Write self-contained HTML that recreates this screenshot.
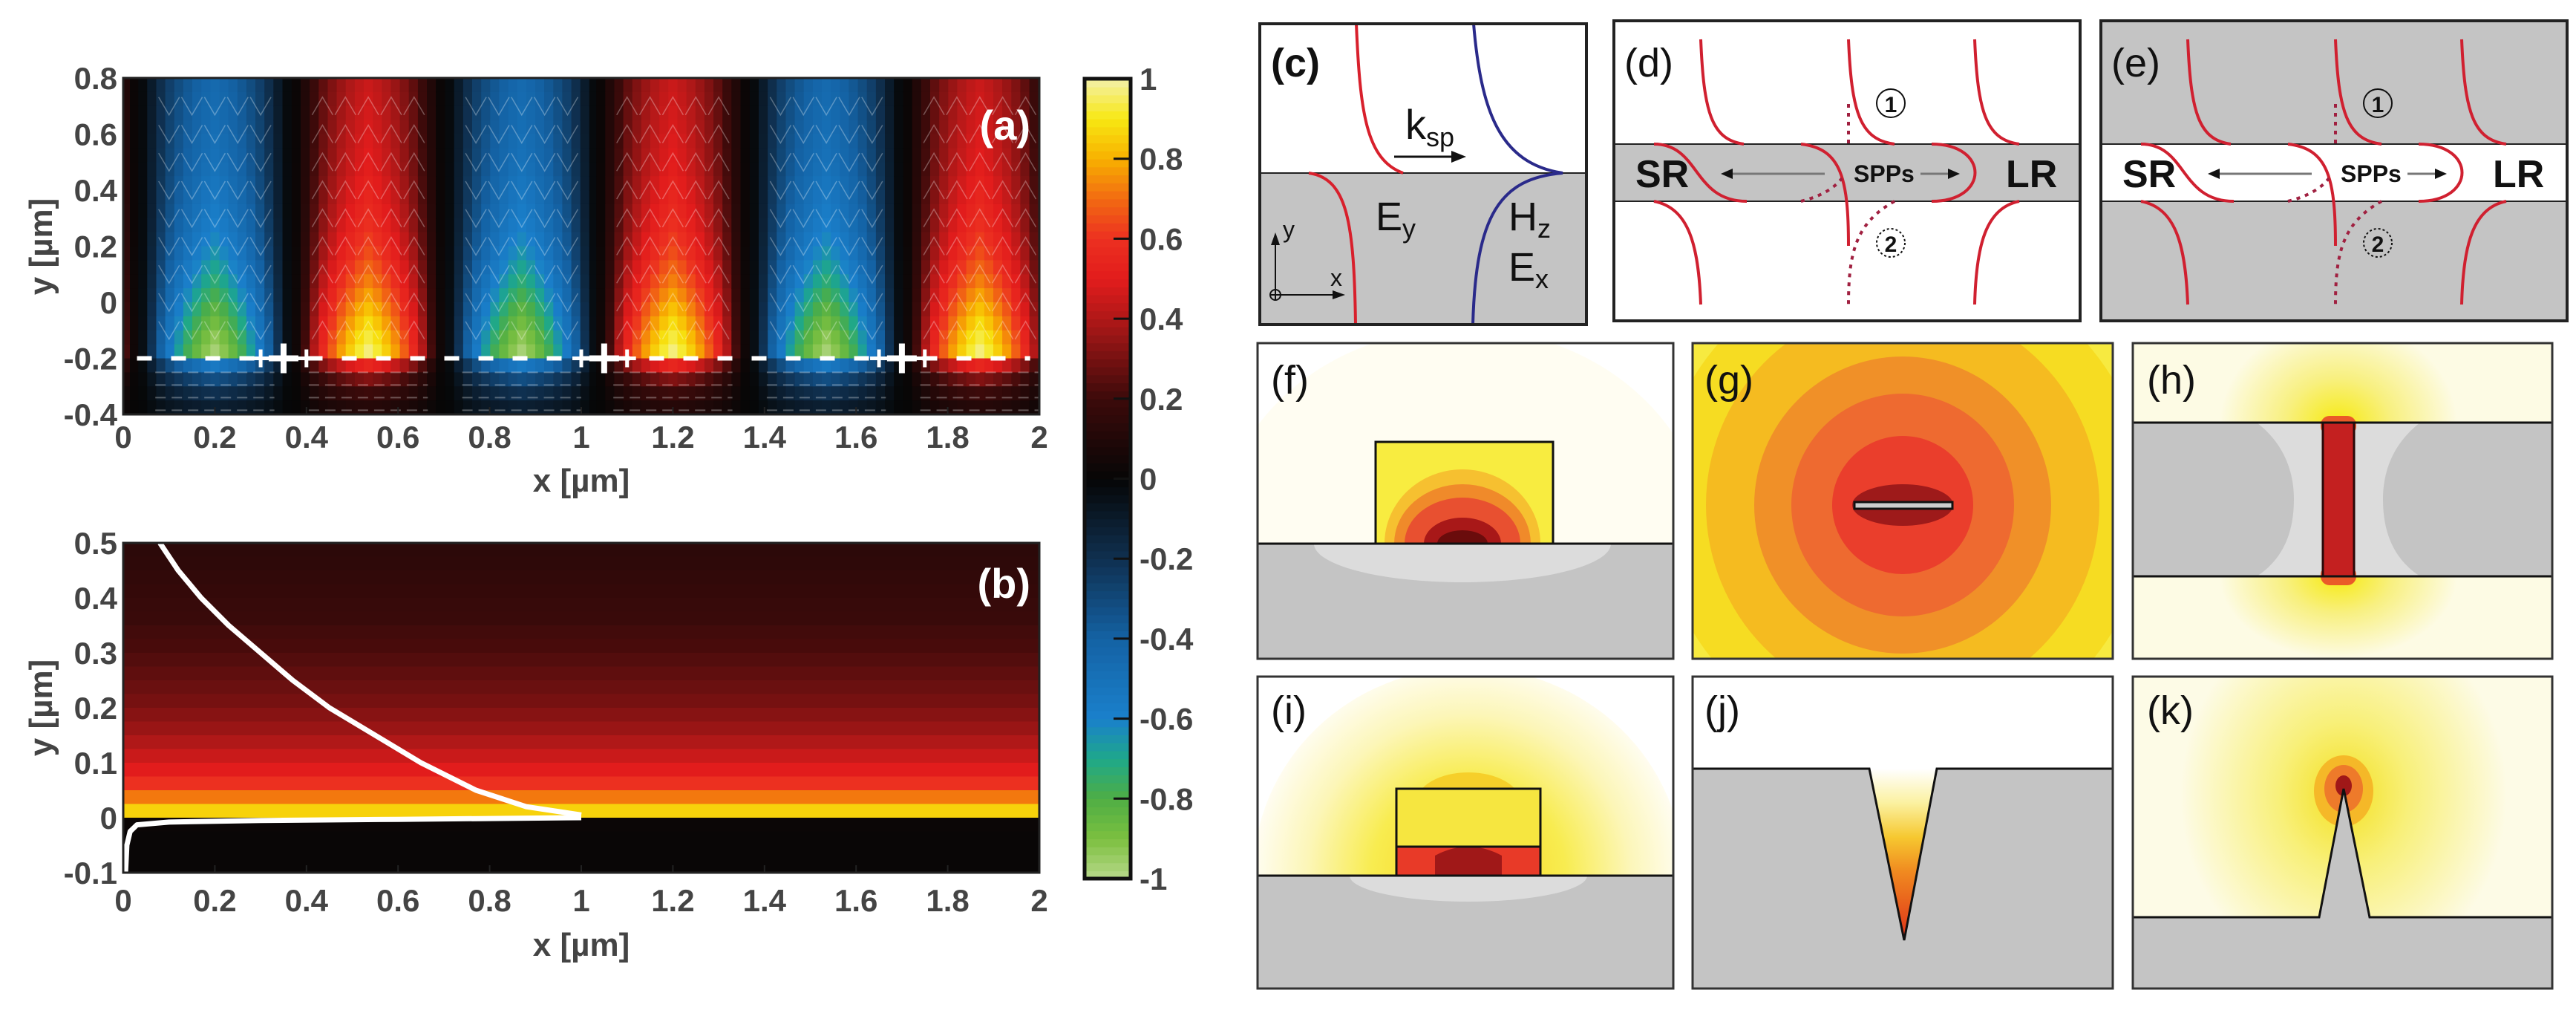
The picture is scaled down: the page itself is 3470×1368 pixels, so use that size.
<!DOCTYPE html>
<html><head><meta charset="utf-8">
<style>
html,body{margin:0;padding:0;background:#fff;width:3470px;height:1368px;overflow:hidden;}
svg{display:block;}
.tk{font-family:"Liberation Sans Narrow","Liberation Sans",sans-serif;font-weight:bold;font-size:42px;fill:#444;}
.lb{font-family:"Liberation Sans Narrow","Liberation Sans",sans-serif;font-weight:bold;font-size:44px;fill:#444;}
.pl{font-family:"Liberation Sans","DejaVu Sans",sans-serif;font-weight:bold;font-size:50px;fill:#111;}
</style></head>
<body>
<svg id="fig" width="3470" height="1368" viewBox="0 0 3470 1368" xmlns="http://www.w3.org/2000/svg">
<defs>
  <clipPath id="clipA"><rect x="166" y="105" width="1234" height="453"/></clipPath>
  <clipPath id="clipB"><rect x="166" y="731" width="1234" height="444"/></clipPath>
  <clipPath id="cpF"><rect x="1694" y="462" width="560" height="425"/></clipPath>
  <clipPath id="cpG"><rect x="2280" y="462" width="566" height="425"/></clipPath>
  <clipPath id="cpH"><rect x="2873" y="462" width="565" height="425"/></clipPath>
  <clipPath id="cpI"><rect x="1694" y="911" width="560" height="420"/></clipPath>
  <clipPath id="cpJ"><rect x="2280" y="911" width="566" height="420"/></clipPath>
  <clipPath id="cpK"><rect x="2873" y="911" width="565" height="420"/></clipPath>
  <radialGradient id="glowF" cx="0.5" cy="1" r="0.5">
    <stop offset="0" stop-color="#f7d21a"/><stop offset="0.45" stop-color="#f8ec50"/><stop offset="0.75" stop-color="#fcf6b8"/><stop offset="1" stop-color="#fffdf2"/>
  </radialGradient>
  <radialGradient id="glowI" gradientUnits="userSpaceOnUse" cx="1978" cy="1179" r="290">
    <stop offset="0" stop-color="#f7d21a"/><stop offset="0.45" stop-color="#f8ec50"/><stop offset="0.75" stop-color="#fcf6b8"/><stop offset="1" stop-color="#fffdf2"/>
  </radialGradient>
  <radialGradient id="glowH" cx="0.5" cy="0.5" r="0.5">
    <stop offset="0" stop-color="#f6ea10"/><stop offset="0.45" stop-color="#f8f080"/><stop offset="1" stop-color="#fdfbe4"/>
  </radialGradient>
  <radialGradient id="glowK" cx="0.5" cy="0.5" r="0.5">
    <stop offset="0" stop-color="#f4e020"/><stop offset="0.4" stop-color="#f8f07a"/><stop offset="1" stop-color="#fdfbe6"/>
  </radialGradient>
  <linearGradient id="notchJ" x1="0" y1="0" x2="0" y2="1">
    <stop offset="0" stop-color="#ffffff"/><stop offset="0.2" stop-color="#fbf1a0"/><stop offset="0.4" stop-color="#f6c830"/><stop offset="0.6" stop-color="#f08a20"/><stop offset="1" stop-color="#e03018"/>
  </linearGradient>
</defs>

<!-- ============ Panel (a) ============ -->
<g id="heatA" clip-path="url(#clipA)"></g>
<g id="quiverA" clip-path="url(#clipA)"></g>
<g id="chargesA"></g>
<rect x="166" y="105" width="1234" height="453" fill="none" stroke="#222" stroke-width="3"/>
<text x="1388" y="188" class="pl" text-anchor="end" style="fill:#fff;font-size:56px">(a)</text>
<g id="axA"></g>
<text x="783" y="662" class="lb" text-anchor="middle">x [µm]</text>
<text transform="translate(70,332) rotate(-90)" class="lb" text-anchor="middle">y [µm]</text>

<!-- ============ Panel (b) ============ -->
<g id="heatB" clip-path="url(#clipB)"></g>
<g id="curvesB" clip-path="url(#clipB)"></g>
<rect x="166" y="731" width="1234" height="444" fill="none" stroke="#222" stroke-width="3"/>
<text x="1388" y="805" class="pl" text-anchor="end" style="fill:#fff;font-size:56px">(b)</text>
<g id="axB"></g>
<text x="783" y="1287" class="lb" text-anchor="middle">x [µm]</text>
<text transform="translate(70,953) rotate(-90)" class="lb" text-anchor="middle">y [µm]</text>

<!-- ============ Colorbar ============ -->
<g id="cbarG"></g>

<!-- ============ Panel (c) ============ -->
<g>
  <rect x="1697" y="32" width="440" height="405" fill="#fff"/>
  <rect x="1697" y="233" width="440" height="204" fill="#c4c4c4"/>
  <line x1="1697" y1="233" x2="2137" y2="233" stroke="#222" stroke-width="2"/>
  <path d="M1827,32 C1832,150 1840,215 1890,233" fill="none" stroke="#d8202c" stroke-width="4"/>
  <path d="M1763,233 C1815,240 1824,300 1826,437" fill="none" stroke="#d8202c" stroke-width="4"/>
  <path d="M1985,32 C1995,150 2020,220 2105,233 C2020,240 1988,290 1984,437" fill="none" stroke="#2a2a8a" stroke-width="4"/>
  <line x1="1878" y1="211" x2="1960" y2="211" stroke="#111" stroke-width="3"/>
  <polygon points="1975,211 1955,203 1955,219" fill="#111"/>
  <text x="1893" y="187" class="pl" style="font-size:56px;font-weight:normal">k<tspan font-size="36" dy="10">sp</tspan></text>
  <text x="1853" y="310" class="pl" style="font-size:54px;font-weight:normal">E<tspan font-size="36" dy="10">y</tspan></text>
  <text x="2032" y="310" class="pl" style="font-size:54px;font-weight:normal">H<tspan font-size="36" dy="10">z</tspan></text>
  <text x="2032" y="378" class="pl" style="font-size:54px;font-weight:normal">E<tspan font-size="36" dy="10">x</tspan></text>
  <g>
    <circle cx="1718" cy="397" r="7" fill="none" stroke="#111" stroke-width="2"/>
    <line x1="1711" y1="397" x2="1725" y2="397" stroke="#111" stroke-width="2"/>
    <line x1="1718" y1="390" x2="1718" y2="404" stroke="#111" stroke-width="2"/>
    <line x1="1718" y1="390" x2="1718" y2="325" stroke="#111" stroke-width="2"/>
    <polygon points="1718,313 1712,330 1724,330" fill="#111"/>
    <line x1="1725" y1="397" x2="1800" y2="397" stroke="#111" stroke-width="2"/>
    <polygon points="1812,397 1795,391 1795,403" fill="#111"/>
    <text x="1728" y="320" class="pl" style="font-size:32px;font-weight:normal">y</text>
    <text x="1792" y="385" class="pl" style="font-size:32px;font-weight:normal">x</text>
  </g>
  <text x="1712" y="103" class="pl" style="font-size:54px">(c)</text>
  <rect x="1697" y="32" width="440" height="405" fill="none" stroke="#222" stroke-width="4"/>
</g>

<!-- ============ Panels (d) and (e) ============ -->
<g id="panelD"></g>
<g id="panelE"></g>

<!-- ============ Panel (f) ============ -->
<g>
 <g clip-path="url(#cpF)">
  <rect x="1694" y="462" width="560" height="425" fill="#fff"/>
  <ellipse cx="1970" cy="732" rx="330" ry="290" fill="url(#glowF)"/>
  <rect x="1694" y="732" width="560" height="155" fill="#c4c4c4"/>
  <path d="M1770,732 A200,52 0 0 0 2170,732 Z" fill="#dcdcdc"/>
  <rect x="1853" y="595" width="239" height="137" fill="#f8ec40"/>
  <path d="M1865,732 A105,100 0 0 1 2075,732 Z" fill="#f6c030"/>
  <path d="M1878,732 A92,80 0 0 1 2062,732 Z" fill="#f08a2a"/>
  <path d="M1892,732 A78,62 0 0 1 2048,732 Z" fill="#e85030"/>
  <path d="M1918,732 A52,35 0 0 1 2022,732 Z" fill="#a81818"/>
  <path d="M1936,732 A34,18 0 0 1 2004,732 Z" fill="#6a0c0c"/>
  <rect x="1853" y="595" width="239" height="137" fill="none" stroke="#111" stroke-width="3"/>
  <line x1="1694" y1="732" x2="2254" y2="732" stroke="#111" stroke-width="3"/>
  <text x="1712" y="530" class="pl" style="font-size:54px;font-weight:normal">(f)</text>
 </g>
  <rect x="1694" y="462" width="560" height="425" fill="none" stroke="#333" stroke-width="3"/>
</g>

<!-- ============ Panel (g) ============ -->
<g>
 <g clip-path="url(#cpG)">
  <rect x="2280" y="462" width="566" height="425" fill="#f7ea40"/>
  <ellipse cx="2563" cy="680" rx="330" ry="330" fill="#f6dc22"/>
  <ellipse cx="2563" cy="680" rx="265" ry="270" fill="#f5bb20"/>
  <ellipse cx="2563" cy="680" rx="200" ry="200" fill="#f09028"/>
  <ellipse cx="2563" cy="680" rx="150" ry="150" fill="#ee6a30"/>
  <ellipse cx="2563" cy="680" rx="95" ry="93" fill="#ea3e2c"/>
  <ellipse cx="2563" cy="680" rx="68" ry="28" fill="#9e1a1a"/>
  <rect x="2498" y="676" width="132" height="9" fill="#ccc" stroke="#111" stroke-width="3"/>
  <text x="2296" y="530" class="pl" style="font-size:54px;font-weight:normal">(g)</text>
 </g>
  <rect x="2280" y="462" width="566" height="425" fill="none" stroke="#333" stroke-width="3"/>
</g>

<!-- ============ Panel (h) ============ -->
<g>
 <g clip-path="url(#cpH)">
  <rect x="2873" y="462" width="565" height="425" fill="#fdfbe4"/>
  <ellipse cx="3150" cy="572" rx="160" ry="140" fill="url(#glowH)"/>
  <ellipse cx="3150" cy="776" rx="160" ry="110" fill="url(#glowH)"/>
  <rect x="2873" y="569" width="565" height="207" fill="#c4c4c4"/>
  <path d="M3040,569 C3080,600 3090,640 3090,672 C3090,710 3080,750 3040,776 L3260,776 C3220,750 3210,710 3210,672 C3210,640 3220,600 3260,569 Z" fill="#dcdcdc"/>
  <rect x="3126" y="560" width="48" height="26" rx="12" fill="#ea5a28"/>
  <rect x="3126" y="762" width="48" height="26" rx="12" fill="#ea5a28"/>
  <rect x="3129" y="569" width="42" height="207" fill="#c42020" stroke="#2a0a0a" stroke-width="3"/>
  <line x1="2873" y1="569" x2="3438" y2="569" stroke="#111" stroke-width="3"/>
  <line x1="2873" y1="776" x2="3438" y2="776" stroke="#111" stroke-width="3"/>
  <text x="2892" y="530" class="pl" style="font-size:54px;font-weight:normal">(h)</text>
 </g>
  <rect x="2873" y="462" width="565" height="425" fill="none" stroke="#333" stroke-width="3"/>
</g>

<!-- ============ Panel (i) ============ -->
<g>
 <g clip-path="url(#cpI)">
  <rect x="1694" y="911" width="560" height="420" fill="#fff"/>
  <path d="M1688,1179 A290,280 0 0 1 2268,1179 Z" fill="url(#glowI)"/>
  <rect x="1694" y="1179" width="560" height="152" fill="#c4c4c4"/>
  <path d="M1818,1179 A160,35 0 0 0 2138,1179 Z" fill="#dcdcdc"/>
  <ellipse cx="1978" cy="1080" rx="70" ry="40" fill="#f6cf2a"/>
  <rect x="1881" y="1062" width="194" height="78" fill="#f6e640"/>
  <rect x="1881" y="1140" width="194" height="39" fill="#e83a28"/>
  <path d="M1933,1179 L1933,1152 Q1978,1128 2023,1152 L2023,1179 Z" fill="#a01818"/>
  <rect x="1881" y="1062" width="194" height="117" fill="none" stroke="#111" stroke-width="3"/>
  <line x1="1881" y1="1140" x2="2075" y2="1140" stroke="#111" stroke-width="3"/>
  <line x1="1694" y1="1179" x2="2254" y2="1179" stroke="#111" stroke-width="3"/>
  <text x="1712" y="975" class="pl" style="font-size:54px;font-weight:normal">(i)</text>
 </g>
  <rect x="1694" y="911" width="560" height="420" fill="none" stroke="#333" stroke-width="3"/>
</g>

<!-- ============ Panel (j) ============ -->
<g>
 <g clip-path="url(#cpJ)">
  <rect x="2280" y="911" width="566" height="420" fill="#fff"/>
  <rect x="2280" y="1035" width="566" height="296" fill="#c4c4c4"/>
  <polygon points="2518,1035 2609,1035 2565,1266" fill="url(#notchJ)"/>
  <polyline points="2280,1035 2518,1035 2565,1266 2609,1035 2846,1035" fill="none" stroke="#111" stroke-width="3"/>
  <text x="2296" y="975" class="pl" style="font-size:54px;font-weight:normal">(j)</text>
 </g>
  <rect x="2280" y="911" width="566" height="420" fill="none" stroke="#333" stroke-width="3"/>
</g>

<!-- ============ Panel (k) ============ -->
<g>
 <g clip-path="url(#cpK)">
  <rect x="2873" y="911" width="565" height="420" fill="#fdfbe6"/>
  <ellipse cx="3157" cy="1070" rx="220" ry="250" fill="url(#glowK)"/>
  <ellipse cx="3157" cy="1065" rx="40" ry="48" fill="#f5b828"/>
  <ellipse cx="3157" cy="1062" rx="26" ry="32" fill="#ee7a2a"/>
  <ellipse cx="3157" cy="1058" rx="11" ry="14" fill="#a01818"/>
  <rect x="2873" y="1235" width="565" height="96" fill="#c4c4c4"/>
  <polygon points="3124,1235 3157,1062 3192,1235" fill="#c4c4c4"/>
  <polyline points="2873,1235 3124,1235 3157,1062 3192,1235 3438,1235" fill="none" stroke="#111" stroke-width="3"/>
  <text x="2892" y="975" class="pl" style="font-size:54px;font-weight:normal">(k)</text>
 </g>
  <rect x="2873" y="911" width="565" height="420" fill="none" stroke="#333" stroke-width="3"/>
</g>
</svg>

<script>
// ---------- Data ----------
const cmapVals = [-1, -0.9, -0.8, -0.7, -0.6, -0.4, -0.2, 0, 0.2, 0.4, 0.5, 0.6, 0.7, 0.8, 0.9, 1];
const cmapCols = ["#b8d88a","#7cc040","#4fae44","#1ea88a","#1a80cc","#1462a4","#0f3050","#060606","#3c0a0a","#b01818","#e21c1c","#ec3020","#f26a12","#f8b000","#f7e812","#f4f0a8"];

// panel (a): lobe centres (µm) and sign, transverse lobe profile, vertical envelope rows
const lobeCenters = [-0.133, 0.2, 0.535, 0.87, 1.2, 1.535, 1.87, 2.2];
const lobeSigns   = [1, -1, 1, -1, 1, -1, 1, -1];
const lobeProfile = [0.04,0.22,0.42,0.58,0.7,0.8,0.88,0.95,1,0.95,0.88,0.8,0.7,0.58,0.42,0.22,0.04];
const envRowsTop  = [0.8,0.75,0.7,0.65,0.6,0.55,0.5,0.45,0.4,0.35,0.3,0.25,0.2,0.15,0.1,0.05,0,-0.05,-0.1,-0.15,-0.2,-0.25,-0.3,-0.35];
const envelope    = [0.45,0.46,0.47,0.48,0.49,0.5,0.51,0.53,0.55,0.57,0.59,0.62,0.65,0.69,0.73,0.78,0.83,0.88,0.93,0.97,0.55,0.32,0.2,0.12];
const xTicksA = [0,0.2,0.4,0.6,0.8,1,1.2,1.4,1.6,1.8,2];
const yTicksA = [-0.4,-0.2,0,0.2,0.4,0.6,0.8];
const chargeX = [0.3,0.35,0.4,1.0,1.05,1.1,1.65,1.7,1.75];
const chargeSize = [12,20,12,12,20,12,12,20,12];

// panel (b)
const bandTop  = [0.5,0.475,0.45,0.425,0.4,0.375,0.35,0.325,0.3,0.275,0.25,0.225,0.2,0.175,0.15,0.125,0.1,0.075,0.05,0.025,0,-0.025,-0.05,-0.075];
const bandVal  = [0.14,0.15,0.16,0.17,0.18,0.19,0.21,0.22,0.24,0.26,0.28,0.3,0.33,0.36,0.4,0.45,0.5,0.6,0.72,0.86,0.02,0.01,0.01,0.01];
const upperCurveX = [0.08,0.12,0.17,0.23,0.3,0.37,0.45,0.55,0.65,0.77,0.88,1.0];
const upperCurveY = [0.5,0.45,0.4,0.35,0.3,0.25,0.2,0.15,0.1,0.05,0.02,0.005];
const lowerCurveX = [0.005,0.008,0.015,0.03,0.1,0.3,0.6,1.0];
const lowerCurveY = [-0.1,-0.05,-0.025,-0.013,-0.008,-0.005,-0.003,0.0];
const xTicksB = [0,0.2,0.4,0.6,0.8,1,1.2,1.4,1.6,1.8,2];
const yTicksB = [-0.1,0,0.1,0.2,0.3,0.4,0.5];
const cbarTicks = [-1,-0.8,-0.6,-0.4,-0.2,0,0.2,0.4,0.6,0.8,1];

const NS = "http://www.w3.org/2000/svg";
function mk(tag, attrs, parent){ const e=document.createElementNS(NS,tag); for(const k in attrs) e.setAttribute(k,attrs[k]); if(parent) parent.appendChild(e); return e; }
function hex(c){return [parseInt(c.substr(1,2),16),parseInt(c.substr(3,2),16),parseInt(c.substr(5,2),16)];}
function cmap(v){
  v=Math.max(-1,Math.min(1,v));
  for(let i=0;i<cmapVals.length-1;i++){
    if(v<=cmapVals[i+1]){
      const t=(v-cmapVals[i])/(cmapVals[i+1]-cmapVals[i]);
      const a=hex(cmapCols[i]), b=hex(cmapCols[i+1]);
      return "rgb("+a.map((q,j)=>Math.round(q+(b[j]-q)*t)).join(",")+")";
    }
  }
  return cmapCols[cmapCols.length-1];
}

// ---------- axes functions ----------
const ax = {x0:166,x1:1400};
const xA = v => ax.x0 + v/2*(ax.x1-ax.x0);
const yA = v => 558 - (v+0.4)/1.2*453;
const yB = v => 1175 - (v+0.1)/0.6*444;
const yC = v => 1183 - (v+1)/2*(1183-106);

// ---------- panel (a) heatmap ----------
const heatA=document.getElementById('heatA');
const halfP = 0.3345, nP = lobeProfile.length;
const rowH = 0.05;
lobeCenters.forEach((c,li)=>{
  for(let i=0;i<nP;i++){
    const xl = c - halfP/2 + i*halfP/nP;
    envRowsTop.forEach((yt,j)=>{
      const v = lobeSigns[li]*lobeProfile[i]*envelope[j];
      const r = mk('rect',{x:xA(xl).toFixed(1), y:yA(yt).toFixed(1), width:(xA(halfP/nP)-xA(0)+0.8).toFixed(1), height:(yA(yt-rowH)-yA(yt)+0.8).toFixed(1), fill:cmap(v)}, heatA);
      
      
    });
  }
});
// quiver-like chevrons
const qA=document.getElementById('quiverA');
lobeCenters.forEach((c,li)=>{
  for(let yy=0.7; yy>-0.15; yy-=0.1){
    for(let k=-2;k<=2;k++){
      const cx=xA(c+k*0.05), cy=yA(yy), s=lobeSigns[li];
      const w=14, h=12*s;
      const p=mk('polyline',{points:`${cx-w},${cy+h} ${cx},${cy-h} ${cx+w},${cy+h}`, fill:'none', stroke:'#fff', 'stroke-width':1.5, opacity:0.3}, qA);
      
      
    }
  }
  for(let yy=-0.25; yy>-0.4; yy-=0.045){
    const l=mk('line',{x1:xA(c-0.13),x2:xA(c+0.13),y1:yA(yy),y2:yA(yy),stroke:'#fff','stroke-width':2,'stroke-dasharray':'14 8',opacity:0.3},qA);
    
    
  }
});
// dashed interface + charges
const chA=document.getElementById('chargesA');
const dl=mk('line',{x1:xA(0.03),x2:xA(1.98),y1:yA(-0.2),y2:yA(-0.2),stroke:'#fff','stroke-width':6,'stroke-dasharray':'20 26'},chA);


chargeX.forEach((x,i)=>{
  const s=chargeSize[i], cx=xA(x), cy=yA(-0.2);
  const p=mk('path',{d:`M${cx-s},${cy} H${cx+s} M${cx},${cy-s} V${cy+s}`,stroke:'#fff','stroke-width':s>15?8:5},chA);
  
  
});

// axes ticks for (a)
const axA=document.getElementById('axA');
xTicksA.forEach(v=>{
  const t=mk('text',{x:xA(v),y:603,'text-anchor':'middle',class:'tk'},axA); t.textContent=String(v);
  
  
  mk('line',{x1:xA(v),x2:xA(v),y1:558,y2:548,stroke:'#222','stroke-width':2},axA);
});
yTicksA.forEach(v=>{
  const t=mk('text',{x:158,y:yA(v)+15,'text-anchor':'end',class:'tk'},axA); t.textContent=String(v);
  
  
});

// ---------- panel (b) ----------
const heatB=document.getElementById('heatB');
bandTop.forEach((yt,i)=>{
  const r=mk('rect',{x:166,y:yB(yt).toFixed(1),width:1234,height:(yB(yt-0.025)-yB(yt)+0.8).toFixed(1),fill:cmap(bandVal[i])},heatB);
  
  
});
const cB=document.getElementById('curvesB');
function curvePath(X,Y){return X.map((x,i)=>(i?'L':'M')+xA(x).toFixed(1)+','+yB(Y[i]).toFixed(1)).join(' ');}
const up=mk('path',{d:curvePath(upperCurveX,upperCurveY),fill:'none',stroke:'#fff','stroke-width':7,'stroke-linejoin':'round'},cB);


const lo=mk('path',{d:curvePath(lowerCurveX,lowerCurveY),fill:'none',stroke:'#fff','stroke-width':7,'stroke-linejoin':'round'},cB);


const axB=document.getElementById('axB');
xTicksB.forEach(v=>{
  const t=mk('text',{x:xA(v),y:1227,'text-anchor':'middle',class:'tk'},axB); t.textContent=String(v);
  
  
  mk('line',{x1:xA(v),x2:xA(v),y1:1175,y2:1165,stroke:'#222','stroke-width':2},axB);
});
yTicksB.forEach(v=>{
  const t=mk('text',{x:158,y:yB(v)+15,'text-anchor':'end',class:'tk'},axB); t.textContent=String(v);
  
  
});

// ---------- colorbar ----------
const cg=document.getElementById('cbarG');
for(let i=0;i<100;i++){
  const v=-1+i*0.02;
  const r=mk('rect',{x:1461,y:yC(v+0.02).toFixed(1),width:62,height:(yC(v)-yC(v+0.02)+0.8).toFixed(1),fill:cmap(v+0.01)},cg);
  
  
}
mk('rect',{x:1461,y:106,width:62,height:1077,fill:'none',stroke:'#111','stroke-width':5},cg);
cbarTicks.forEach(v=>{
  mk('line',{x1:1500,x2:1523,y1:yC(v),y2:yC(v),stroke:'#111','stroke-width':3},cg);
  const t=mk('text',{x:1535,y:yC(v)+15,class:'tk'},cg); t.textContent=String(v);
  
  
});

// ---------- panels (d) & (e) ----------
function drawDE(g, dx, bandFill, outFill, label){
  const L=2174+dx, W=628, T=28, B=432;
  mk('rect',{x:L,y:T,width:W,height:B-T,fill:outFill},g);
  mk('rect',{x:L,y:194,width:W,height:77,fill:bandFill},g);
  mk('line',{x1:L,x2:L+W,y1:194,y2:194,stroke:'#222','stroke-width':2},g);
  mk('line',{x1:L,x2:L+W,y1:271,y2:271,stroke:'#222','stroke-width':2},g);
  const red={fill:'none',stroke:'#d02030','stroke-width':4};
  const paths=[
    `M${2291+dx},53 C${2295+dx},150 ${2305+dx},188 ${2349+dx},194`,
    `M${2490+dx},53 C${2494+dx},150 ${2505+dx},188 ${2552+dx},194`,
    `M${2660+dx},53 C${2664+dx},150 ${2675+dx},188 ${2720+dx},194`,
    `M${2228+dx},194 C${2290+dx},194 ${2280+dx},271 ${2353+dx},271`,
    `M${2426+dx},194 C${2480+dx},200 ${2490+dx},240 ${2490+dx},331`,
    `M${2602+dx},194 C${2680+dx},194 ${2680+dx},271 ${2602+dx},271`,
    `M${2228+dx},271 C${2275+dx},280 ${2288+dx},330 ${2291+dx},410`,
    `M${2720+dx},271 C${2675+dx},280 ${2662+dx},330 ${2660+dx},410`
  ];
  paths.forEach(d=>{const p=mk('path',Object.assign({d},red),g);
    
    });
  const dot={fill:'none',stroke:'#a02040','stroke-width':4,'stroke-dasharray':'5 7'};
  [`M${2490+dx},140 L${2490+dx},194`,`M${2426+dx},271 C${2450+dx},265 ${2470+dx},255 ${2481+dx},240`,`M${2552+dx},271 C${2500+dx},300 ${2490+dx},340 ${2490+dx},410`].forEach(d=>{
    const p=mk('path',Object.assign({d},dot),g);
    
    });
  mk('circle',{cx:2547+dx,cy:139,r:19,fill:'none',stroke:'#111','stroke-width':2},g);
  mk('circle',{cx:2547+dx,cy:327,r:19,fill:'none',stroke:'#111','stroke-width':2,'stroke-dasharray':'3 3'},g);
  const f='font-family:"Liberation Sans Narrow","Liberation Sans",sans-serif;font-weight:bold;fill:#111;';
  [['1',2547,151,30,'middle'],['2',2547,339,30,'middle'],['SR',2203,252,52,'start'],['LR',2702,252,52,'start'],['SPPs',2497,245,32,'start']].forEach(a=>{
    const t=mk('text',{x:a[1]+dx,y:a[2],'text-anchor':a[4],style:f+'font-size:'+a[3]+'px'},g); t.textContent=a[0];
    
    
  });
  mk('line',{x1:2458+dx,x2:2330+dx,y1:234,y2:234,stroke:'#777','stroke-width':3},g);
  mk('polygon',{points:`${2318+dx},234 ${2334+dx},227 ${2334+dx},241`,fill:'#111'},g);
  mk('line',{x1:2587+dx,x2:2628+dx,y1:234,y2:234,stroke:'#777','stroke-width':3},g);
  mk('polygon',{points:`${2640+dx},234 ${2624+dx},227 ${2624+dx},241`,fill:'#111'},g);
  const lt=mk('text',{x:L+14,y:103,class:'pl',style:'font-size:54px;font-weight:normal'},g); lt.textContent=label;
  
  
  mk('rect',{x:L,y:T,width:W,height:B-T,fill:'none',stroke:'#222','stroke-width':4},g);
}
drawDE(document.getElementById('panelD'),0,'#c4c4c4','#ffffff','(d)');
drawDE(document.getElementById('panelE'),656,'#ffffff','#c4c4c4','(e)');
</script>
</body></html>
